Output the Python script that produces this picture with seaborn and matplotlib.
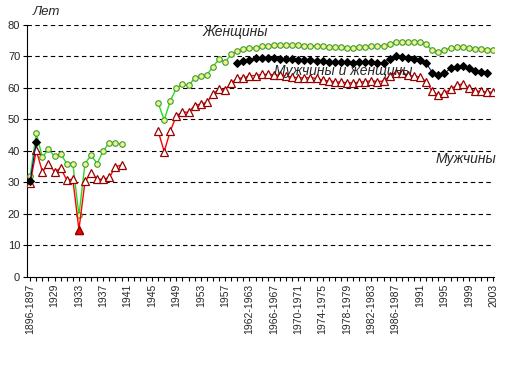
import numpy as np
import pandas as pd
import matplotlib
matplotlib.use("Agg")
import matplotlib.pyplot as plt
import seaborn as sns

# Categories (x axis), one per data column of the source table
periods = (["1896-1897", "1926-1927"] + [str(y) for y in range(1927, 1958)]
           + ["1958-1959", "1960-1961", "1961-1962"]
           + [f"{y}-{y + 1}" for y in range(1962, 1987)]
           + [str(y) for y in range(1988, 2004)])

N = None
women = [32.0, 45.6, 38.0, 40.5, 38.3, 39.0, 36.0, 36.0, 19.5, 36.0, 38.6, 36.0, 40.1, 42.6, 42.6, 42.1,
         N, N, N, N, N,
         55.3, 49.8, 55.9, 59.9, 61.2, 60.8, 63.1, 63.9, 64.1, 66.8, 69.1, 68.2, 70.7, 71.7, 72.4, 72.6,
         72.8, 73.2, 73.4, 73.5, 73.5, 73.6, 73.5, 73.5, 73.4, 73.4, 73.3, 73.2, 73.0, 73.0, 72.9, 72.8,
         72.8, 73.0, 73.1, 73.2, 73.4, 73.4, 74.0, 74.7, 74.7, 74.5, 74.5, 74.5, 73.9, 71.9, 71.3, 72.1,
         72.6, 72.9, 73.1, 72.6, 72.4, 72.4, 72.2, 72.2]
men = [29.7, 40.2, 33.4, 35.8, 33.4, 34.5, 30.8, 31.0, 15.0, 30.3, 32.9, 31.0, 31.0, 31.6, 35.0, 35.5,
       N, N, N, N, N,
       46.3, 39.8, 46.3, 51.2, 52.3, 52.3, 54.4, 54.9, 55.4, 58.0, 59.7, 59.4, 61.5, 63.1, 63.1, 63.9,
       63.9, 64.3, 64.3, 64.2, 64.0, 63.8, 63.5, 63.2, 63.2, 63.3, 63.0, 62.5, 62.2, 62.0, 61.8, 61.7,
       61.6, 61.8, 62.0, 62.3, 62.0, 62.2, 63.8, 64.9, 64.6, 64.2, 63.7, 63.5, 62.0, 58.9, 57.6, 58.3,
       59.6, 60.8, 61.3, 59.9, 59.0, 58.9, 58.7, 58.6]
both = [30.5, 42.9] + [N] * 32 + [
        67.8, 68.7, 69.0,
        69.4, 69.6, 69.6, 69.4, 69.2, 69.2, 69.1, 68.9, 68.9, 68.9, 68.7, 68.4, 68.2, 68.2, 68.1, 68.1,
        67.9, 68.1, 68.1, 68.2, 68.0, 68.0, 69.1, 70.2, 69.7, 69.4, 69.2, 69.0, 67.9, 64.9, 64.1, 64.6,
        66.2, 66.8, 67.0, 66.2, 65.5, 65.2, 64.6, N]


def long_form(values, name):
    df = pd.DataFrame({"idx": np.arange(len(values)), "value": pd.array(values, dtype="Float64")})
    df["series"] = name
    # split into runs so gaps are not bridged
    df["segment"] = df["value"].isna().cumsum()
    return df.dropna().astype({"value": float})


sns.set_style("white")
plt.rcParams["font.family"] = ["Liberation Sans", "DejaVu Sans"]

fig = plt.figure(figsize=(5.12, 3.84), dpi=100)
ax = fig.add_axes([0.053, 0.279, 0.912, 0.656])

for y in range(10, 81, 10):
    ax.axhline(y, color="black", lw=0.8, ls=(0, (4, 3)), zorder=0)

sns.lineplot(data=long_form(women, "Женщины"), x="idx", y="value", units="segment", estimator=None,
             color="#22DD22", lw=1.0, marker="o", markersize=4.0, markerfacecolor="#F2F488",
             markeredgecolor="#3A9A3A", markeredgewidth=0.8, ax=ax, zorder=3)
sns.lineplot(data=long_form(men, "Мужчины"), x="idx", y="value", units="segment", estimator=None,
             color="#FF0000", lw=1.0, marker="^", markersize=5.3, markerfacecolor="white",
             markeredgecolor="#990000", markeredgewidth=0.9, ax=ax, zorder=4)
sns.lineplot(data=long_form(both, "Мужчины и женщины"), x="idx", y="value", units="segment", estimator=None,
             color="#000080", lw=0.7, marker="D", markersize=4.0, markerfacecolor="black",
             markeredgecolor="black", ax=ax, zorder=5)

# the 1933 point for men is drawn filled in the source
ax.plot(8, men[8], marker="^", markersize=5.3, markerfacecolor="#EE0000", markeredgecolor="#990000",
        ls="none", zorder=6)

ax.set_xlim(-0.5, 76.15)
ax.set_ylim(0, 80)
ax.set_yticks(range(0, 81, 10))
ax.set_xticks(range(len(periods)))
ax.set_xticklabels([p if i % 4 == 0 else "" for i, p in enumerate(periods)], rotation=90)
ax.tick_params(axis="x", length=3, width=0.8, color="black", labelsize=7.5, pad=2)
ax.tick_params(axis="y", length=3, width=0.8, color="black", labelsize=8, pad=2)
ax.tick_params(bottom=True, left=True)
ax.set_xlabel("")
ax.set_ylabel("")
for side in ["top", "right"]:
    ax.spines[side].set_visible(False)
for side in ["left", "bottom"]:
    ax.spines[side].set_color("black")
    ax.spines[side].set_linewidth(0.8)

ax.text(33.7, 77.8, "Женщины", style="italic", fontsize=10, ha="center", va="center")
ax.text(51.4, 65.4, "Мужчины и женщины", style="italic", fontsize=10, ha="center", va="center", zorder=7)
ax.text(71.6, 37.5, "Мужчины", style="italic", fontsize=10, ha="center", va="center")
fig.text(46 / 512, 1 - 12 / 384, "Лет", style="italic", fontsize=9.5, ha="center", va="center")

fig.savefig("out.png", dpi=100)
